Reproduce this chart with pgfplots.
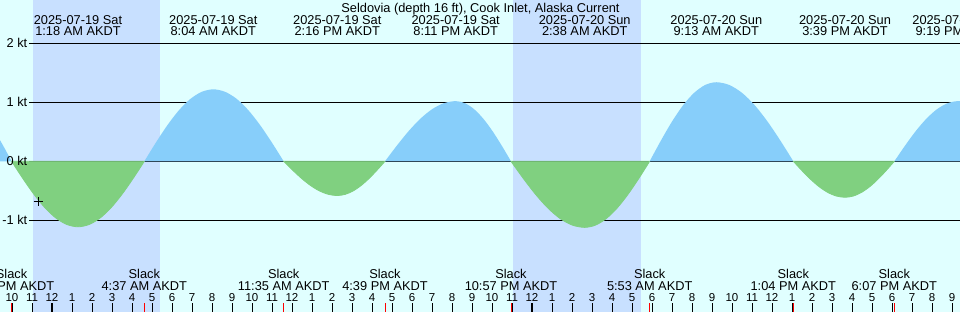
\documentclass[border=0pt]{standalone}
\usepackage{pgfplots}
\pgfplotsset{compat=1.18}
\usepackage{fontspec}
\setmainfont{Liberation Sans}
\definecolor{bgc}{RGB}{224,255,255}
\definecolor{nightc}{RGB}{200,224,255}
\definecolor{floodc}{RGB}{135,206,250}
\definecolor{ebbc}{RGB}{128,208,128}
\newcommand\evt[3]{\node[anchor=base,inner sep=0] at (#1,287.3) {#2}; \node[anchor=base,inner sep=0] at (#1,276.3) {#3};}
\newcommand\slk[2]{\node[anchor=base,inner sep=0] at (#1,33.7) {Slack}; \node[anchor=base,inner sep=0] at (#1,22) {#2};}
\begin{document}
\fontsize{12.8bp}{15bp}\selectfont
\begin{tikzpicture}
\path[use as bounding box] (0,0) rectangle (960bp,312bp);
\clip (0,0) rectangle (960bp,312bp);
\fill[bgc] (0,0) rectangle (960bp,312bp);
\begin{axis}[at={(0,0)}, anchor=south west, width=960bp, height=312bp, scale only axis,
  xmin=-2.6, xmax=45.4, ymin=-2.5542, ymax=2.7339, axis lines=none, clip=true]
% night shading
\addplot[fill=nightc, draw=none] coordinates {(-0.95,-2.6) (5.4,-2.6) (5.4,2.8) (-0.95,2.8)};
\addplot[fill=nightc, draw=none] coordinates {(23.05,-2.6) (29.45,-2.6) (29.45,2.8) (23.05,2.8)};
% grid lines
\addplot[black, line width=1bp] coordinates {(-1.15,2) (46,2)};
\addplot[black, line width=1bp] coordinates {(-1.15,1) (46,1)};
\addplot[black, line width=1bp] coordinates {(-1.15,0) (46,0)};
\addplot[black, line width=1bp] coordinates {(-1.15,-1) (46,-1)};
% flood (blue) and ebb (green) lobes
\addplot[fill=floodc, draw=none, smooth] coordinates {(-4.5,0) (-4.5,1.0) (-4.087,0.966) (-3.673,0.866) (-3.26,0.707) (-2.847,0.5) (-2.433,0.259) (-2.02,0)};
\addplot[fill=ebbc, draw=ebbc, line width=0.8bp, smooth] coordinates {(-2.02,0) (-1.467,-0.287) (-0.913,-0.555) (-0.36,-0.785) (0.193,-0.961) (0.747,-1.072) (1.3,-1.11) (1.853,-1.072) (2.406,-0.961) (2.958,-0.785) (3.511,-0.555) (4.064,-0.287) (4.617,0)} -- cycle;
\addplot[fill=floodc, draw=none, smooth] coordinates {(4.617,0) (5.192,0.316) (5.767,0.61) (6.342,0.863) (6.917,1.057) (7.492,1.178) (8.067,1.22) (8.653,1.178) (9.239,1.057) (9.825,0.863) (10.411,0.61) (10.997,0.316) (11.583,0)};
\addplot[fill=ebbc, draw=ebbc, line width=0.8bp, smooth] coordinates {(11.583,0) (12.030,-0.150) (12.478,-0.29) (12.925,-0.410) (13.372,-0.502) (13.820,-0.560) (14.267,-0.58) (14.664,-0.560) (15.061,-0.502) (15.458,-0.410) (15.856,-0.29) (16.253,-0.150) (16.65,0)} -- cycle;
\addplot[fill=floodc, draw=none, smooth] coordinates {(16.65,0) (17.239,0.264) (17.828,0.51) (18.417,0.721) (19.006,0.883) (19.594,0.985) (20.183,1.02) (20.644,0.985) (21.105,0.883) (21.567,0.721) (22.028,0.51) (22.489,0.264) (22.95,0)};
\addplot[fill=ebbc, draw=ebbc, line width=0.8bp, smooth] coordinates {(22.95,0) (23.564,-0.290) (24.178,-0.56) (24.792,-0.792) (25.405,-0.970) (26.019,-1.082) (26.633,-1.12) (27.175,-1.082) (27.717,-0.970) (28.258,-0.792) (28.8,-0.56) (29.342,-0.290) (29.883,0)} -- cycle;
\addplot[fill=floodc, draw=none, smooth] coordinates {(29.883,0) (30.439,0.347) (30.994,0.67) (31.55,0.948) (32.106,1.160) (32.661,1.294) (33.217,1.34) (33.858,1.294) (34.5,1.160) (35.142,0.948) (35.783,0.67) (36.425,0.347) (37.067,0)};
\addplot[fill=ebbc, draw=ebbc, line width=0.8bp, smooth] coordinates {(37.067,0) (37.497,-0.158) (37.928,-0.305) (38.358,-0.431) (38.789,-0.528) (39.219,-0.589) (39.65,-0.61) (40.061,-0.589) (40.472,-0.528) (40.883,-0.431) (41.294,-0.305) (41.706,-0.158) (42.117,0)} -- cycle;
\addplot[fill=floodc, draw=none, smooth] coordinates {(42.117,0) (42.650,0.264) (43.183,0.51) (43.717,0.721) (44.250,0.883) (44.783,0.985) (45.317,1.02) (45.85,0.985) (46.38,0.883) (46.38,0)};
% current-time marker
\addplot[black, only marks, mark=+, mark size=4.5bp, line width=1bp] coordinates {(-0.7,-0.685)};
% hour ticks
\pgfplotsinvokeforeach{-2,...,45}{\addplot[black, line width=1bp] coordinates {(#1,-2.56) (#1,-2.405)};}
\addplot[black, line width=2.5bp] coordinates {(0,-2.56) (0,-2.405)};
\addplot[black, line width=2.5bp] coordinates {(24,-2.56) (24,-2.405)};
% slack ticks
\pgfplotsinvokeforeach{-2.02,4.617,11.583,16.65,22.95,29.883,37.067,42.117}{\addplot[red, line width=1bp] coordinates {(#1,-2.56) (#1,-2.405)};}
\end{axis}
\begin{scope}[x=1bp,y=1bp]
\node[anchor=base,inner sep=0] at (480.5,299.7) {Seldovia (depth 16 ft), Cook Inlet, Alaska Current};
\evt{78}{2025-07-19 Sat}{1:18 AM AKDT}
\evt{213.3}{2025-07-19 Sat}{8:04 AM AKDT}
\evt{337.3}{2025-07-19 Sat}{2:16 PM AKDT}
\evt{455.7}{2025-07-19 Sat}{8:11 PM AKDT}
\evt{584.7}{2025-07-20 Sun}{2:38 AM AKDT}
\evt{716.3}{2025-07-20 Sun}{9:13 AM AKDT}
\evt{845}{2025-07-20 Sun}{3:39 PM AKDT}
\evt{958.3}{2025-07-20 Sun}{9:19 PM AKDT}
\slk{11.6}{9:59 PM AKDT}
\slk{144.3}{4:37 AM AKDT}
\slk{283.7}{11:35 AM AKDT}
\slk{385}{4:39 PM AKDT}
\slk{511}{10:57 PM AKDT}
\slk{649.7}{5:53 AM AKDT}
\slk{793.3}{1:04 PM AKDT}
\slk{894.3}{6:07 PM AKDT}
\node[anchor=base east,inner sep=0] at (27.5,264.3) {2 kt};
\node[anchor=base east,inner sep=0] at (27.5,205.3) {1 kt};
\node[anchor=base east,inner sep=0] at (27.5,146.3) {0 kt};
\node[anchor=base east,inner sep=0] at (27.5,87.3) {-1 kt};
\foreach \h in {-2,...,45} {
  \pgfmathtruncatemacro\lbl{mod(\h+24,12)}
  \ifnum\lbl=0 \def\lbl{12}\fi
  \node[anchor=base,inner sep=0,font=\fontsize{11.5bp}{12bp}\selectfont] at ({52+20*\h},10.3) {\lbl};
}
\end{scope}
\end{tikzpicture}
\end{document}
